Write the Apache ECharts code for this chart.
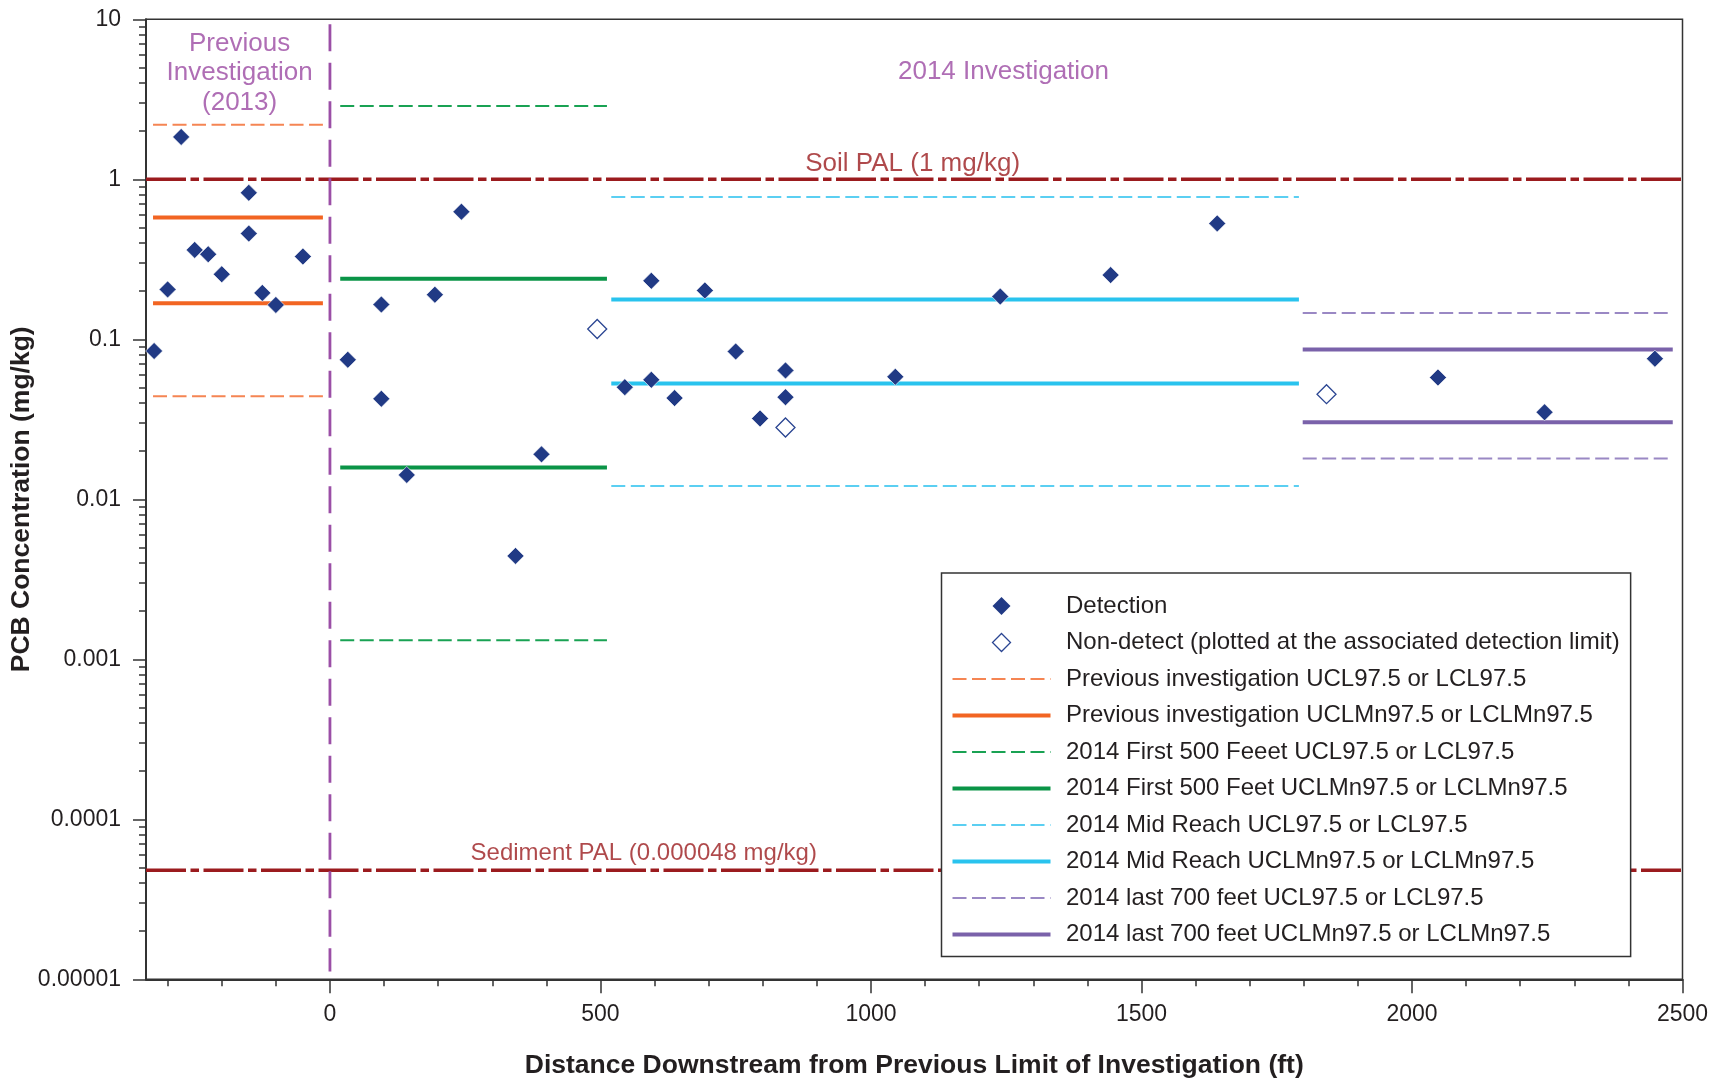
<!DOCTYPE html>
<html>
<head>
<meta charset="utf-8">
<script src="https://cdn.jsdelivr.net/npm/echarts@6/dist/echarts.min.js"></script>
<style>html,body{margin:0;padding:0;background:#fff}#c{width:1721px;height:1082px}</style>
</head>
<body>
<div id="c"></div>
<script>
// ---- data ----
const detX = [-325, -300, -275, -250, -225, -200, -150, -150, -125, -100, -50,
  33, 95, 95, 142, 194, 243, 343, 391,
  545, 594, 594, 637, 693, 750, 795, 842, 842, 1045, 1239, 1443, 1640,
  2048, 2245, 2449];
const detY = [0.0845, 0.205, 1.84, 0.362, 0.34, 0.255, 0.823, 0.458, 0.195, 0.164, 0.329,
  0.0745, 0.165, 0.0425, 0.0142, 0.19, 0.627, 0.00443, 0.0191,
  0.0502, 0.232, 0.0558, 0.0429, 0.202, 0.0839, 0.032, 0.0639, 0.0435, 0.0583, 0.185, 0.252, 0.53,
  0.0577, 0.035, 0.0757];
const ndX = [494, 842, 1842];
const ndY = [0.116, 0.0281, 0.0454];

// reach extents [start, end] (ft)
const prevRange = [-327, -13];
const firstRange = [19, 512];
const midRange = [520, 1791];
const lastRange = [1798, 2482];

// bounds [upper, lower]
const prevUCL = [2.19, 0.044];
const prevUCLMn = [0.578, 0.168];
const firstUCL = [2.87, 0.001315];
const firstUCLMn = [0.239, 0.0158];
const midUCL = [0.775, 0.0121];
const midUCLMn = [0.177, 0.0529];
const lastUCL = [0.1458, 0.018];
const lastUCLMn = [0.0864, 0.0303];

const soilPAL = 1;
const sedimentPAL = 0.000048;
const xRange = [-340, 2500];
const yRange = [0.00001, 10];
const dividerY = [0.0000112, 9.3];

const xTickLabels = [0, 500, 1000, 1500, 2000, 2500];
const xMinorTicks = [-300, -200, -100, 100, 200, 300, 400, 600, 700, 800, 900, 1100, 1200, 1300, 1400,
  1600, 1700, 1800, 1900, 2100, 2200, 2300, 2400];
const yTickLabels = ['0.00001', '0.0001', '0.001', '0.01', '0.1', '1', '10'];
const yMinorMult = [2, 3, 4, 5, 6, 7, 8, 9];

const names = {
  det: 'Detection',
  nd: 'Non-detect (plotted at the associated detection limit)',
  prevD: 'Previous investigation UCL97.5 or LCL97.5',
  prevS: 'Previous investigation UCLMn97.5 or LCLMn97.5',
  firstD: '2014 First 500 Feeet UCL97.5 or LCL97.5',
  firstS: '2014 First 500 Feet UCLMn97.5 or LCLMn97.5',
  midD: '2014 Mid Reach UCL97.5 or LCL97.5',
  midS: '2014 Mid Reach UCLMn97.5 or LCLMn97.5',
  lastD: '2014 last 700 feet UCL97.5 or LCL97.5',
  lastS: '2014 last 700 feet UCLMn97.5 or LCLMn97.5'
};

// annotation texts and anchor positions (data coords)
const annotations = [
  {text: 'Previous\nInvestigation\n(2013)', x: -167, y: 4.62, color: '#9B4AA3', size: 26, pos: 'inside', lh: 29.5, d: 0},
  {text: '2014 Investigation', x: 1245, y: 4.7, color: '#9B4AA3', size: 26, pos: 'inside', lh: 30, d: 0},
  {text: 'Soil PAL (1 mg/kg)', x: 1077, y: soilPAL, color: '#9B1B1E', size: 26, pos: 'top', lh: 26, d: 2},
  {text: 'Sediment PAL (0.000048 mg/kg)', x: 580, y: sedimentPAL, color: '#9B1B1E', size: 24, pos: 'top', lh: 24, d: 4}
];

// ---- helpers ----
const FONT = "'Liberation Sans', Arial, sans-serif";
const TXT = '#231f20';
const NAVY = '#213a85';
const DIAMOND_ICON = 'path://M0,-10 L10,0 L0,10 L-10,0 Z';
const yMinorLog = [];
for (let e = -5; e < 1; e++) yMinorMult.forEach(m => yMinorLog.push(Math.log10(m) + e));

function seg(name, range, y, color, width, type, z) {
  return {
    name: name, type: 'line', symbol: 'none', silent: true, z: z || 2,
    lineStyle: {color: color, width: width, type: type, cap: 'butt'},
    itemStyle: {color: color},
    data: [[range[0], y], [range[1], y]],
    animation: false
  };
}
const DASH = [14, 5.5];
const series = [];
series.push(seg('soil', xRange, soilPAL, '#9B1B1E', 3.5, [40, 4.5, 8.5, 4.5]));
series.push(seg('sed', xRange, sedimentPAL, '#9B1B1E', 3.5, [40, 4.5, 8.5, 4.5]));
series.push({
  name: 'divider', type: 'line', symbol: 'none', silent: true, z: 2,
  lineStyle: {color: '#9B4FA6', width: 2.8, type: [27, 11.5]},
  data: [[0, dividerY[1]], [0, dividerY[0]]], animation: false
});
const groups = [
  [names.prevD, prevRange, prevUCL, '#F58553', 2, DASH],
  [names.prevS, prevRange, prevUCLMn, '#F26522', 4, 'solid'],
  [names.firstD, firstRange, firstUCL, '#19A253', 2, DASH],
  [names.firstS, firstRange, firstUCLMn, '#0A9447', 4, 'solid'],
  [names.midD, midRange, midUCL, '#5BCFF2', 2, DASH],
  [names.midS, midRange, midUCLMn, '#29C3EE', 4, 'solid'],
  [names.lastD, lastRange, lastUCL, '#9A88C4', 2, DASH],
  [names.lastS, lastRange, lastUCLMn, '#7A62AA', 4, 'solid']
];
groups.forEach(g => {
  series.push(seg(g[0], g[1], g[2][0], g[3], g[4], g[5]));
  series.push(seg(g[0], g[1], g[2][1], g[3], g[4], g[5]));
});
series.push({
  name: names.det, type: 'scatter', symbol: 'diamond', symbolSize: 17, z: 4,
  itemStyle: {color: NAVY, borderColor: '#fff', borderWidth: 0.6, opacity: 1},
  data: detX.map((x, i) => [x, detY[i]]), animation: false
});
series.push({
  name: names.nd, type: 'scatter', symbol: 'diamond', symbolSize: 19, z: 4,
  itemStyle: {color: '#fff', borderColor: '#2a4592', borderWidth: 1.3, opacity: 1},
  data: ndX.map((x, i) => [x, ndY[i]]), animation: false
});
annotations.forEach(a => {
  series.push({
    name: 'ann', type: 'scatter', symbol: 'circle', symbolSize: 1, silent: true, z: 5,
    itemStyle: {color: 'rgba(0,0,0,0)'},
    label: {show: true, position: a.pos, distance: a.d, formatter: a.text, color: a.color,
      fontSize: a.size, fontFamily: FONT, lineHeight: a.lh, align: 'center'},
    data: [[a.x, a.y]], animation: false
  });
});

function lineLegend(name, w) {
  return {name: name, itemStyle: {opacity: 0}, lineStyle: {width: w}};
}

const option = {
  backgroundColor: '#fff',
  animation: false,
  textStyle: {fontFamily: FONT},
  grid: {left: 146, right: 38.5, top: 19.3, bottom: 102.7, show: true, containLabel: false,
    outerBoundsMode: 'none',
    borderColor: '#333', borderWidth: 1.5, backgroundColor: 'transparent'},
  legend: {
    orient: 'vertical', left: 941.5, top: 573,
    padding: [21, 11, 10, 9],
    itemWidth: 98, itemHeight: 18, itemGap: 12.5, symbolKeepAspect: true,
    backgroundColor: '#fff', borderColor: '#333', borderWidth: 1.5, borderRadius: 0,
    selectedMode: false,
    textStyle: {fontSize: 24, color: TXT, fontFamily: FONT, padding: [0, 0, 0, 10.5]},
    data: [
      {name: names.det, icon: DIAMOND_ICON, itemStyle: {borderWidth: 0, color: NAVY}},
      {name: names.nd, icon: DIAMOND_ICON, itemStyle: {borderWidth: 1.3, borderColor: '#2a4592', color: '#fff'}},
      lineLegend(names.prevD, 2), lineLegend(names.prevS, 4),
      lineLegend(names.firstD, 2), lineLegend(names.firstS, 4),
      lineLegend(names.midD, 2), lineLegend(names.midS, 4),
      lineLegend(names.lastD, 2), lineLegend(names.lastS, 4)
    ]
  },
  xAxis: [
    {
      type: 'value', min: xRange[0], max: xRange[1], position: 'bottom',
      name: 'Distance Downstream from Previous Limit of Investigation (ft)',
      nameLocation: 'middle', nameGap: 73, nameMoveOverlap: false,
      nameTextStyle: {fontSize: 26.5, fontWeight: 'bold', color: TXT, fontFamily: FONT},
      axisLine: {onZero: false, lineStyle: {color: '#333', width: 2}},
      axisTick: {customValues: xTickLabels, length: 14, lineStyle: {color: '#333', width: 1.5}},
      axisLabel: {customValues: xTickLabels, fontSize: 23, color: TXT, margin: 24, fontFamily: FONT,
        formatter: v => String(v)},
      splitLine: {show: false}
    },
    {
      type: 'value', min: xRange[0], max: xRange[1], position: 'bottom',
      axisLine: {show: false, onZero: false},
      axisTick: {customValues: xMinorTicks, length: 7, lineStyle: {color: '#333', width: 1.5}},
      axisLabel: {show: false},
      splitLine: {show: false}
    }
  ],
  yAxis: [
    {
      type: 'log', logBase: 10, min: yRange[0], max: yRange[1], interval: 1, splitNumber: 6,
      position: 'left',
      name: 'PCB Concentration (mg/kg)', nameLocation: 'middle', nameGap: 111, nameMoveOverlap: false,
      nameTextStyle: {fontSize: 26.5, fontWeight: 'bold', color: TXT, fontFamily: FONT},
      axisLine: {show: true, onZero: false, lineStyle: {color: '#333', width: 2}},
      axisTick: {show: true, length: 13, lineStyle: {color: '#333', width: 1.5}},
      axisLabel: {fontSize: 23, color: TXT, margin: 25, fontFamily: FONT,
        formatter: v => yTickLabels[Math.round(Math.log10(v)) + 5]},
      minorTick: {show: false},
      splitLine: {show: false}
    },
    {
      type: 'value', min: -5, max: 1, position: 'left',
      axisLine: {show: false, onZero: false},
      axisTick: {show: true, customValues: yMinorLog, length: 7, lineStyle: {color: '#333', width: 1.5}},
      axisLabel: {show: false},
      splitLine: {show: false}
    }
  ],
  series: series
};

const chart = echarts.init(document.getElementById('c'), null, {renderer: 'canvas'});
chart.setOption(option);
</script>
</body>
</html>
